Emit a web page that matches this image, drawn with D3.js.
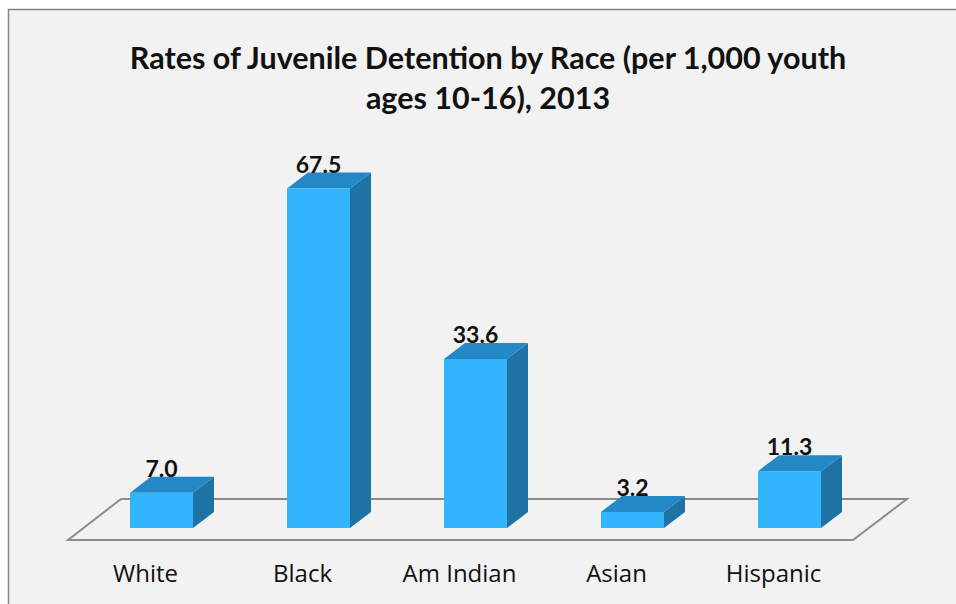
<!DOCTYPE html>
<html><head><meta charset="utf-8">
<script src="https://cdn.jsdelivr.net/npm/d3@7"></script>
<style>body{margin:0;background:#fff;}svg{display:block;}</style>
</head><body>
<svg id="c" width="956" height="604"></svg>
<script>
const categories = ["White", "Black", "Am Indian", "Asian", "Hispanic"];
const values = [7.0, 67.5, 33.6, 3.2, 11.3];
const valueLabels = ["7.0", "67.5", "33.6", "3.2", "11.3"];
const titleLines = ["Rates of Juvenile Detention by Race (per 1,000 youth", "ages 10-16), 2013"];

const svg = d3.select("#c");
svg.append("rect").attr("x", 8.5).attr("y", 9.5).attr("width", 960).attr("height", 610)
  .attr("fill", "#f2f2f2").attr("stroke", "#858585").attr("stroke-width", 1.5);

const title = svg.append("text").attr("text-anchor", "middle")
  .attr("font-family", "Lato, 'Open Sans', sans-serif").attr("font-weight", "bold")
  .attr("font-size", 30.5).attr("fill", "#111");
titleLines.forEach((t, i) => title.append("tspan").attr("x", 488).attr("y", 69 + i * 40).text(t));

const x = d3.scalePoint().domain(categories).range([83, 868]).padding(0.5);
const y = d3.scaleLinear().domain([0, 67.5]).range([528, 188.5]);
const bw = 63, dx = 21, dy = 16;

// floor
const fl = 68, fr = 853, fy = 540, ddx = 54, ddy = 41;
svg.append("path")
  .attr("d", `M${fl},${fy}L${fr},${fy}L${fr + ddx},${fy - ddy}L${fl + ddx - 1},${fy - ddy}Z`)
  .attr("fill", "none").attr("stroke", "#8c8c8c").attr("stroke-width", 2);

const g = svg.append("g").selectAll("g").data(categories).join("g");
g.each(function (c, i) {
  const s = d3.select(this);
  const x0 = x(c) - bw / 2, x1 = x(c) + bw / 2, yt = y(values[i]), yb = y(0);
  s.append("path").attr("d", `M${x1},${yb}L${x1},${yt}L${x1 + dx},${yt - dy}L${x1 + dx},${yb - dy}Z`).attr("fill", "#1e73a4");
  s.append("path").attr("d", `M${x0},${yt}L${x0 + dx},${yt - dy}L${x1 + dx},${yt - dy}L${x1},${yt}Z`).attr("fill", "#2388c5");
  s.append("rect").attr("x", x0).attr("y", yt).attr("width", bw).attr("height", yb - yt).attr("fill", "#33b5fe");
  s.append("text").attr("x", x(c)).attr("y", yt - 16).attr("text-anchor", "middle")
    .attr("font-family", "Lato, sans-serif").attr("font-weight", "bold").attr("font-size", 23)
    .attr("fill", "#111").text(valueLabels[i]);
  s.append("text").attr("x", x(c) - 16).attr("y", 582).attr("text-anchor", "middle")
    .attr("font-family", "'Open Sans', sans-serif").attr("font-size", 24)
    .attr("fill", "#111").text(c);
});
</script>
</body></html>
